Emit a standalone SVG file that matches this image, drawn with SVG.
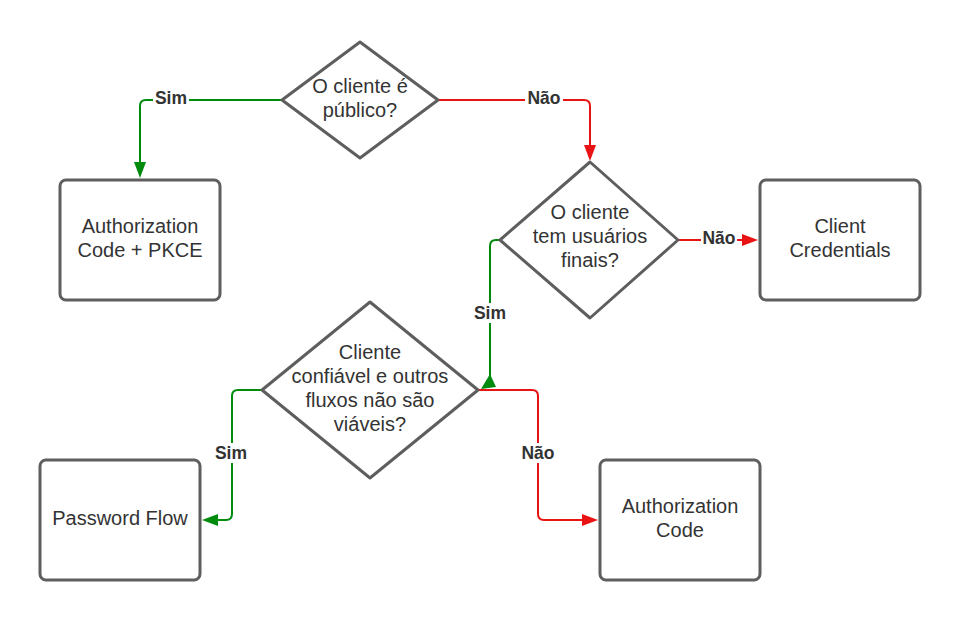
<svg xmlns="http://www.w3.org/2000/svg" width="960" height="620" viewBox="0 0 960 620">
<defs>
<style>
.shape{fill:#fff;stroke:#5e5e5e;stroke-width:3;stroke-linejoin:round}
.t{font-family:"Liberation Sans",Arial,sans-serif;font-size:20px;fill:#333;text-anchor:middle}
.lbl{font-family:"Liberation Sans",Arial,sans-serif;font-size:17.5px;font-weight:bold;fill:#333;text-anchor:middle}
.g{fill:none;stroke:#008a0e;stroke-width:2}
.r{fill:none;stroke:#e81313;stroke-width:2}
</style>
</defs>
<rect width="960" height="620" fill="#fff"/>
<g id="connectors">
<path class="g" d="M282,100 H146 Q140,100 140,106 V163" />
<polygon points="134,162 146,162 140,178" fill="#008a0e"/>
<rect x="153" y="89" width="36" height="18" fill="#fff"/>
<text class="lbl" x="171" y="104">Sim</text>

<path class="r" d="M438,100 H584 Q590,100 590,106 V146" />
<polygon points="584,145 596,145 590,161" fill="#e81313"/>
<rect x="525" y="89" width="38" height="18" fill="#fff"/>
<text class="lbl" x="544" y="104">Não</text>

<path class="r" d="M678,240 H744" />
<polygon points="742,234 742,246 758,240" fill="#e81313"/>
<rect x="701" y="229" width="36" height="18" fill="#fff"/>
<text class="lbl" x="719" y="244">Não</text>

<path class="g" d="M500,240 H496 Q490,240 490,246 V378" />
<polygon points="490,374 496,387 481,389" fill="#008a0e"/>
<rect x="471" y="303" width="38" height="20" fill="#fff"/>
<text class="lbl" x="490" y="319">Sim</text>

<path class="g" d="M262,390 H238 Q232,390 232,396 V514 Q232,520 226,520 H216" />
<polygon points="218,514 218,526 202,520" fill="#008a0e"/>
<rect x="212" y="443" width="40" height="20" fill="#fff"/>
<text class="lbl" x="231" y="459">Sim</text>

<path class="r" d="M478,390 H532 Q538,390 538,396 V514 Q538,520 544,520 H584" />
<polygon points="582,514 582,526 598,520" fill="#e81313"/>
<rect x="518" y="443" width="40" height="20" fill="#fff"/>
<text class="lbl" x="538" y="459">Não</text>
</g>
<g id="d1">
<polygon class="shape" points="360,42 438,100 360,158 282,100"/>
<text class="t" x="360" y="93">O cliente é</text>
<text class="t" x="360" y="117">público?</text>
</g>
<g id="d2">
<polygon class="shape" points="590,162 678,240 590,318 500,240"/>
<text class="t" x="590" y="219">O cliente</text>
<text class="t" x="590" y="243">tem usuários</text>
<text class="t" x="590" y="267">finais?</text>
</g>
<g id="d3">
<polygon class="shape" points="370,302 478,390 370,478 262,390"/>
<text class="t" x="370" y="359">Cliente</text>
<text class="t" x="370" y="383">confiável e outros</text>
<text class="t" x="370" y="407">fluxos não são</text>
<text class="t" x="370" y="431">viáveis?</text>
</g>
<g id="pkce">
<rect class="shape" x="60" y="180" width="160" height="120" rx="6"/>
<text class="t" x="140" y="233">Authorization</text>
<text class="t" x="140" y="257">Code + PKCE</text>
</g>
<g id="cc">
<rect class="shape" x="760" y="180" width="160" height="120" rx="6"/>
<text class="t" x="840" y="233">Client</text>
<text class="t" x="840" y="257">Credentials</text>
</g>
<g id="pw">
<rect class="shape" x="40" y="460" width="160" height="120" rx="6"/>
<text class="t" x="120" y="525">Password Flow</text>
</g>
<g id="ac">
<rect class="shape" x="600" y="460" width="160" height="120" rx="6"/>
<text class="t" x="680" y="513">Authorization</text>
<text class="t" x="680" y="537">Code</text>
</g>
</svg>
